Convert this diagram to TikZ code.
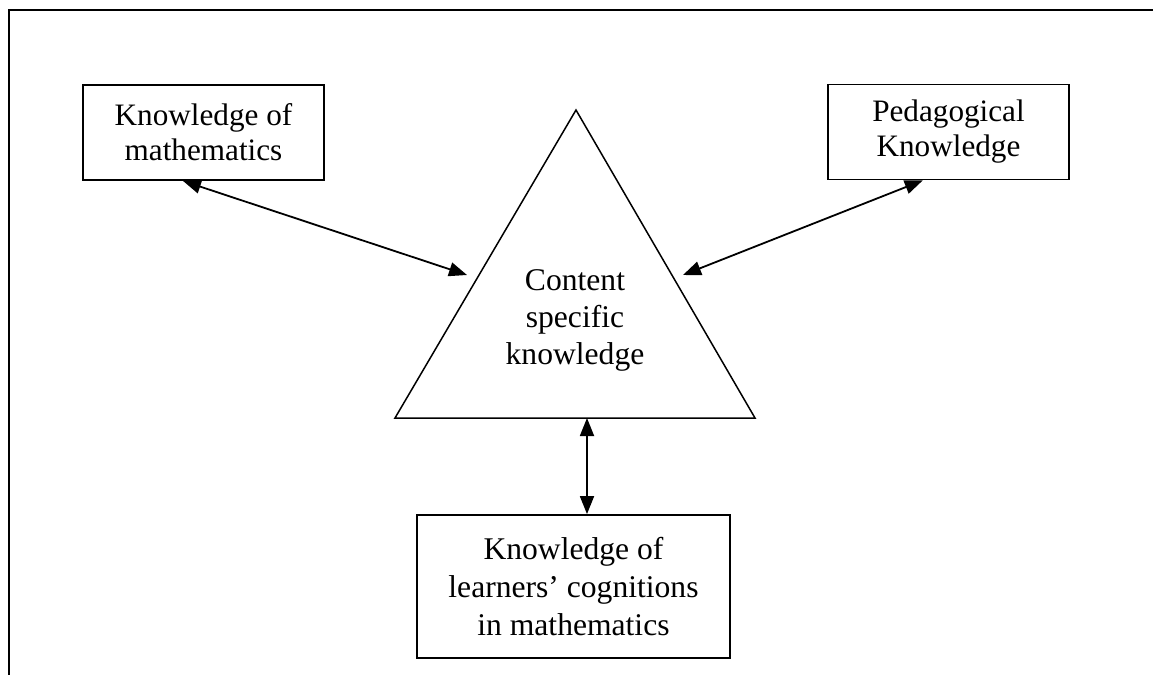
\documentclass[tikz,border=0pt]{standalone}
\usepackage{fontspec}
\setmainfont{Liberation Serif}
\usetikzlibrary{arrows.meta}

\begin{document}
\begin{tikzpicture}[
    x=0.5pt, y=-0.5pt,
    >={Triangle[length=9pt, width=7pt]},
    box/.style={draw, line width=0.9pt, align=center, inner sep=0pt,
                minimum width=120.5pt, minimum height=47.5pt,
                font=\fontsize{15.6}{17.5}\selectfont},
    bigbox/.style={box, minimum width=156.5pt, minimum height=71.5pt,
                   font=\fontsize{15.8}{19.2}\selectfont},
    tri/.style={line width=0.75pt, line join=miter},
    label/.style={align=center, font=\fontsize{15.8}{18.5}\selectfont},
    link/.style={<->, line width=0.9pt},
]
\useasboundingbox (0,0) rectangle (1153,675);
\draw[line width=1pt] (9,700) -- (9,10) -- (1170,10);

\node[box] (km) at (203.5,132.5) {Knowledge of\\mathematics};
\node[box] (pk) at (948.5,132) {Pedagogical\\Knowledge};
\node[bigbox] (lc) at (573.5,586.5) {Knowledge of\\learners’ cognitions\\in mathematics};

\coordinate (apex) at (576,110);
\coordinate (bl) at (395,418);
\coordinate (br) at (755,418);
\draw[tri] (apex) -- (bl) -- (br) -- cycle;
\node[label] (csk) at (575,320) {Content\\specific\\knowledge};

\coordinate (tl) at (467,275);
\coordinate (tr) at (683,275);
\coordinate (tb) at (587,418);

\draw[link] (km.247) -- (tl);
\draw[link] (pk.242) -- (tr);
\draw[link] (tb) -- (tb |- lc.north);

\end{tikzpicture}
\end{document}
